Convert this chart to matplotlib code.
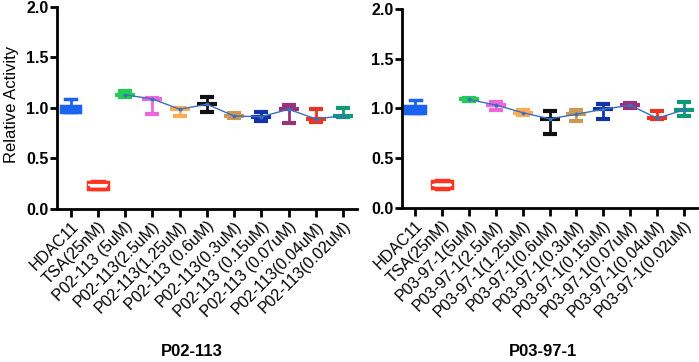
import numpy as np
import matplotlib
matplotlib.use("Agg")
import matplotlib.pyplot as plt

plt.rcParams['font.family'] = ['Liberation Sans', 'DejaVu Sans']

# ---- data ----
ctrl_names = ["HDAC11", "TSA(25nM)"]
ctrl_colors = ["#1a62f0", "#ff3322"]
drug_colors = ["#22cc55", "#ee66dd", "#ffaa55", "#111111", "#cc9955",
               "#1133aa", "#993377", "#ee3322", "#119977"]

left_title = "P02-113"
left_labels = ctrl_names + ["P02-113 (5uM)", "P02-113(2.5uM)", "P02-113(1.25uM)",
                            "P02-113 (0.6uM)", "P02-113(0.3uM)", "P02-113 (0.15uM)",
                            "P02-113 (0.07uM)", "P02-113(0.04uM)", "P02-113(0.02uM)"]
# controls: whislo, q1, med, q3, whishi
left_ctrl = [[0.96, 0.96, 1.00, 1.02, 1.09],
             [0.195, 0.20, 0.235, 0.27, 0.28]]
left_mean = [1.13, 1.09, 0.987, 1.037, 0.92, 0.914, 0.987, 0.891, 0.924]
left_lo = [1.105, 0.94, 0.92, 0.957, 0.898, 0.874, 0.855, 0.861, 0.914]
left_hi = [1.17, 1.095, 0.997, 1.105, 0.947, 0.963, 1.027, 0.987, 1.00]

right_title = "P03-97-1"
right_labels = ctrl_names + ["P03-97-1(5uM)", "P03-97-1(2.5uM)", "P03-97-1(1.25uM)",
                             "P03-97-1(0.6uM)", "P03-97-1(0.3uM)", "P03-97-1(0.15uM)",
                             "P03-97-1(0.07uM)", "P03-97-1(0.04uM)", "P03-97-1(0.02uM)"]
right_ctrl = [[0.95, 0.95, 0.995, 1.02, 1.08],
              [0.19, 0.20, 0.235, 0.27, 0.28]]
right_mean = [1.09, 1.035, 0.958, 0.895, 0.942, 0.992, 1.032, 0.902, 0.985]
right_lo = [1.07, 0.985, 0.935, 0.739, 0.879, 0.895, 1.002, 0.895, 0.928]
right_hi = [1.11, 1.06, 0.985, 0.978, 0.985, 1.045, 1.052, 0.975, 1.067]


def draw_panel(ax, labels, ctrl, mean, lo, hi):
    # control groups as small box plots
    for i, (s, c) in enumerate(zip(ctrl, ctrl_colors)):
        st = dict(whislo=s[0], q1=s[1], med=s[2], q3=s[3], whishi=s[4], fliers=[])
        filled = (i == 0)
        ax.bxp([st], positions=[i], widths=0.72, capwidths=0.42, showfliers=False,
               patch_artist=True,
               boxprops=dict(facecolor=c if filled else "white", edgecolor=c, linewidth=2.5),
               medianprops=dict(color=c if filled else "white", linewidth=1.5),
               whiskerprops=dict(color=c, linewidth=2),
               capprops=dict(color=c, linewidth=2.5))

    # drug concentrations: mean with error bars
    xs = np.arange(len(ctrl), len(labels))
    for x, m, l, h, c in zip(xs, mean, lo, hi, drug_colors):
        ax.errorbar(x, m, yerr=[[m - l], [h - m]], fmt='_', color=c, ms=15, mew=3,
                    capsize=4.8, capthick=2.5, elinewidth=2)
    ax.plot(xs, mean, color="#3a70c0", lw=1, marker='o', ms=1.8, zorder=5)

    ax.set_xlim(-0.5, len(labels) - 0.5)
    ax.set_ylim(0, 2.0)
    ax.set_yticks([0, 0.5, 1.0, 1.5, 2.0])
    ax.set_yticklabels(["0.0", "0.5", "1.0", "1.5", "2.0"], fontweight='bold', fontsize=11.5)
    ax.set_xticks(np.arange(len(labels)))
    ax.set_xticklabels(labels, rotation=45, ha='right', rotation_mode='anchor', fontsize=11.5)
    for sp in ["top", "right"]:
        ax.spines[sp].set_visible(False)
    for sp in ["left", "bottom"]:
        ax.spines[sp].set_linewidth(2)
    ax.tick_params(width=2, length=5, pad=1)
    ax.tick_params(axis='x', length=6)


fig = plt.figure(figsize=(6.99, 3.62), dpi=100)
ax1 = fig.add_axes([0.0815, 0.4227, 0.429, 0.558])
ax2 = fig.add_axes([0.5747, 0.4254, 0.423, 0.550])

draw_panel(ax1, left_labels, left_ctrl, left_mean, left_lo, left_hi)
draw_panel(ax2, right_labels, right_ctrl, right_mean, right_lo, right_hi)
ax1.set_ylabel("Relative Activity", fontsize=12)
ax1.yaxis.set_label_coords(-0.125, 0.52)

fig.text(192 / 699, 1 - 352 / 362, left_title, ha='center', va='center',
         fontweight='bold', fontsize=12)
fig.text(543 / 699, 1 - 352 / 362, right_title, ha='center', va='center',
         fontweight='bold', fontsize=12)

fig.savefig("out.png", dpi=100)
